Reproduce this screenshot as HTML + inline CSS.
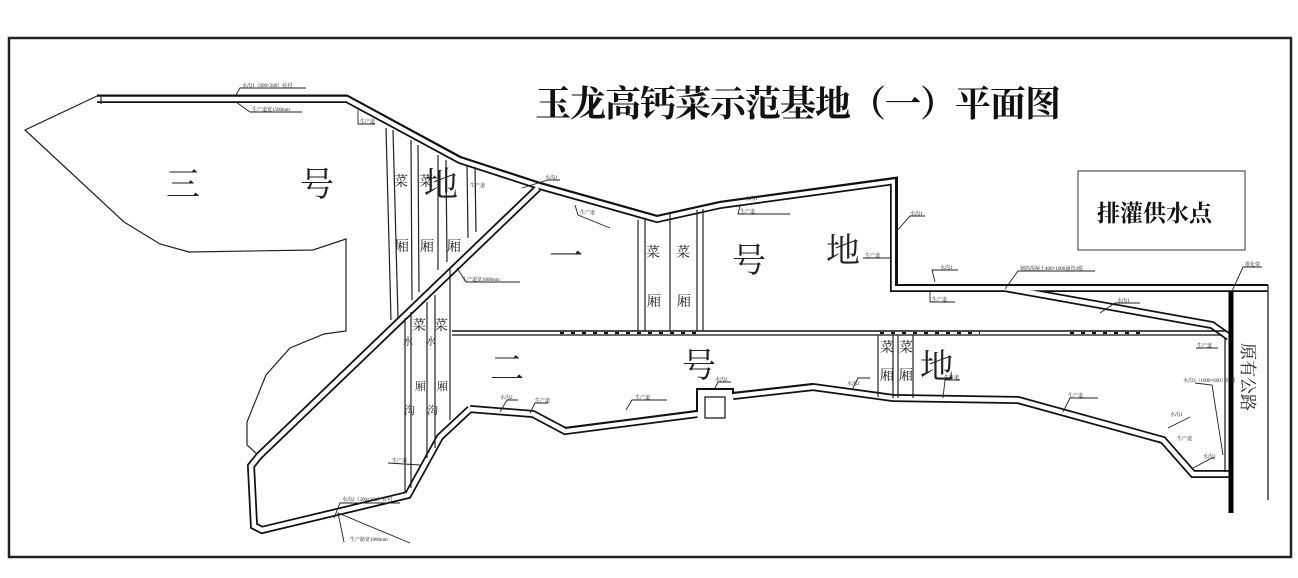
<!DOCTYPE html>
<html><head><meta charset="utf-8"><style>
html,body{margin:0;padding:0;background:#fff;}
svg{display:block;}
.s{font-family:"Liberation Serif","Noto Serif CJK SC",serif;}
</style></head><body>
<svg width="1298" height="578" viewBox="0 0 1298 578" xmlns="http://www.w3.org/2000/svg">
<rect x="0" y="0" width="1298" height="578" fill="#fff"/>
<rect x="9" y="38" width="1282" height="519" fill="none" stroke="#222" stroke-width="2.5"/>

<!-- 三号地 outline -->
<polyline fill="none" stroke="#222" stroke-width="1.2" points="97,96 25,130 124,222 160,244 189,252 313,250 346,239 346,331 324,334 290,348 266,375 247,422 247,445 257,454"/>

<!-- double-line roads -->
<g fill="none" stroke-linejoin="miter">
 <g stroke="#111" stroke-width="8">
  <polyline points="97,99 347,99 460,160 540,186 657,219 720,205 894,181 894,288 1005,288 1268,288"/>
  <polyline points="259,456 538,188"/>
  <polyline points="1005,288 1212,325 1229,337"/>
  <polyline points="470,409 533,414 565,431 697,414"/>
  <polyline points="733,396 813,387 893,398 1018,400 1163,440 1193,474 1229,474"/>
  <polyline points="470,409 440,437 408,495 262,530 254,526 251,466 259,456"/>
 </g>
 <g stroke="#fff" stroke-width="4.5">
  <polyline points="97,99 347,99 460,160 540,186 657,219 720,205 894,181 894,288 1005,288 1268,288"/>
  <polyline points="259,456 538,188"/>
  <polyline points="1005,288 1212,325 1229,337"/>
  <polyline points="470,409 533,414 565,431 697,414"/>
  <polyline points="733,396 813,387 893,398 1018,400 1163,440 1193,474 1229,474"/>
  <polyline points="470,409 440,437 408,495 262,530 254,526 251,466 259,456"/>
 </g>
</g>
<polyline fill="none" stroke="#111" stroke-width="2" points="97,95.5 347,95.5 460,157 540,183 657,216 720,202 896,178 896,285 1268,285"/>
<polyline fill="none" stroke="#111" stroke-width="2" points="565,428 697,411 697,389 733,389 733,393 813,384"/>
<rect x="705" y="397" width="20" height="21" fill="#fff" stroke="#111" stroke-width="1.2"/>

<!-- middle divider road -->
<line x1="452" y1="331" x2="1225" y2="331" stroke="#111" stroke-width="1.6"/>
<line x1="452" y1="335" x2="1222" y2="335" stroke="#111" stroke-width="1.2"/>
<g stroke="#111" stroke-width="2" stroke-dasharray="4,7"><line x1="560" y1="333" x2="700" y2="333"/><line x1="880" y1="333" x2="980" y2="333"/><line x1="1070" y1="333" x2="1140" y2="333"/></g>

<!-- right side -->
<line x1="1268" y1="285" x2="1268" y2="500" stroke="#222" stroke-width="1.3"/>
<line x1="1231" y1="292" x2="1231" y2="513" stroke="#000" stroke-width="5"/>
<line x1="1225" y1="338" x2="1225" y2="472" stroke="#111" stroke-width="1.2"/>

<!-- vegetable strips -->
<g stroke="#222" stroke-width="1.2" fill="none">
 <line x1="386" y1="128" x2="391" y2="320"/><line x1="393" y1="130" x2="398" y2="318"/>
 <line x1="411" y1="140" x2="412" y2="300"/><line x1="418" y1="145" x2="419" y2="292"/>
 <line x1="438" y1="155" x2="438" y2="270"/><line x1="446" y1="160" x2="447" y2="262"/>
 <line x1="467" y1="165" x2="468" y2="238"/><line x1="475" y1="167" x2="476" y2="232"/>
 <line x1="405" y1="318" x2="405" y2="492"/><line x1="411" y1="312" x2="411" y2="488"/>
 <line x1="427" y1="302" x2="427" y2="458"/><line x1="435" y1="295" x2="435" y2="448"/>
 <line x1="450" y1="268" x2="450" y2="420"/>
 <line x1="638" y1="220" x2="638" y2="331"/><line x1="645" y1="219" x2="645" y2="331"/>
 <line x1="670" y1="213" x2="670" y2="331"/><line x1="697" y1="210" x2="697" y2="331"/><line x1="703" y1="209" x2="703" y2="331"/>
 <line x1="878" y1="335" x2="878" y2="397"/><line x1="893" y1="335" x2="893" y2="398"/>
 <line x1="898" y1="335" x2="898" y2="398"/><line x1="913" y1="335" x2="913" y2="398"/>
 <line x1="101" y1="97" x2="101" y2="104"/>
</g>

<!-- leader lines -->
<g stroke="#222" stroke-width="0.9" fill="none">
 <polyline points="236,102 250,112 302,112"/><polyline points="236,95 240,88 306,88"/>
 <polyline points="358,110 358,124 375,124"/><polyline points="522,188 548,180 560,180"/>
 <polyline points="575,205 578,215 610,228"/><polyline points="740,206 738,214 790,214"/>
 <polyline points="457,268 466,282 520,282"/><polyline points="896,232 910,216 925,216"/>
 <polyline points="863,258 890,258"/><polyline points="935,282 932,270 958,270"/>
 <polyline points="1005,289 1018,271 1095,271"/><polyline points="1232,291 1243,267 1262,267"/>
 <polyline points="930,292 930,302 955,302"/><polyline points="1100,313 1115,303 1140,303"/>
 <polyline points="1196,348 1218,348"/>
 <polyline points="1063,412 1070,398 1098,398"/><polyline points="1168,428 1190,417"/>
 <polyline points="1193,468 1212,458 1215,458"/><polyline points="1223,455 1212,385 1195,383"/>
 <polyline points="943,398 945,380 960,380"/><polyline points="852,390 858,378 870,378"/>
 <polyline points="626,410 632,400 667,400"/><polyline points="530,413 535,403 548,403"/>
 <polyline points="500,412 507,400 518,400"/><polyline points="715,388 718,382 731,382"/>
 <polyline points="344,542 338,513 410,543"/><polyline points="334,518 340,503 400,503"/>
 <polyline points="420,465 388,463"/>
</g>

<!-- tiny labels -->
<g class="s" font-size="5" fill="#222">
 <text x="242" y="87">水沟1（600×300）砼衬</text><text x="252" y="111">生产道宽1500mm</text>
 <text x="360" y="123">生产道</text><text x="545" y="179">水沟1</text><text x="580" y="214">生产道</text>
 <text x="745" y="200">水沟1</text><text x="740" y="213">生产道</text><text x="462" y="281">生产道宽1000mm</text>
 <text x="910" y="215">水沟1</text><text x="865" y="257">生产道</text><text x="940" y="269">水沟1</text>
 <text x="1020" y="270">钢筋混凝土400×1000涵管4根</text><text x="1245" y="266">排化带</text>
 <text x="932" y="301">生产道</text><text x="1117" y="302">水沟1</text><text x="1197" y="347">生产道</text>
 <text x="1068" y="397">生产道</text><text x="1170" y="416">水沟1</text><text x="1177" y="440">生产道</text>
 <text x="1203" y="458">水沟2</text><text x="1183" y="382">水沟3（1000×600）砼衬</text>
 <text x="847" y="385">水沟2</text><text x="944" y="379">生产道</text><text x="635" y="399">生产道</text>
 <text x="500" y="399">水沟2</text><text x="535" y="402">生产道</text><text x="715" y="381">水沟2</text>
 <text x="342" y="501">水沟2（300×300）砼衬</text><text x="350" y="541">生产路宽1000mm</text>
 <text x="392" y="462">生产道</text><text x="470" y="187">生产道</text>
</g>

<!-- title -->
<text class="s" x="535" y="116" font-size="36" font-weight="bold" fill="#111" letter-spacing="-1">玉龙高钙菜示范基地（一）平面图</text>
<rect x="1078" y="171" width="167" height="79" fill="none" stroke="#333" stroke-width="1"/>
<text class="s" x="1097" y="221" font-size="23" font-weight="bold" fill="#111">排灌供水点</text>

<!-- big labels -->
<g class="s" font-size="34" fill="#222">
 <text x="166" y="196">三</text><text x="300" y="196">号</text><text x="424" y="196">地</text>
 <text x="549" y="268">一</text><text x="732" y="272">号</text><text x="826" y="262">地</text>
 <text x="490" y="380">二</text><text x="682" y="377">号</text><text x="920" y="378">地</text>
</g>
<g class="s" font-size="14" fill="#222">
 <text x="394" y="186">菜</text><text x="419" y="186">菜</text>
 <text x="395" y="251">厢</text><text x="420" y="251">厢</text><text x="447" y="251">厢</text>
 <text x="646" y="257">菜</text><text x="676" y="257">菜</text>
 <text x="647" y="306">厢</text><text x="677" y="306">厢</text>
 <text x="880" y="352">菜</text><text x="899" y="352">菜</text>
 <text x="880" y="380">厢</text><text x="899" y="380">厢</text>
 <text x="412" y="330">菜</text><text x="434" y="330">菜</text>
 <text x="403" y="345" font-size="10">水</text><text x="426" y="345" font-size="10">水</text>
 <text x="415" y="390" font-size="11">厢</text><text x="437" y="390" font-size="11">厢</text>
 <text x="404" y="414" font-size="11">沟</text><text x="427" y="414" font-size="11">沟</text>
</g>
<text class="s" font-size="17" fill="#222" transform="translate(1242,343) rotate(90)">原有公路</text>
</svg>
</body></html>
